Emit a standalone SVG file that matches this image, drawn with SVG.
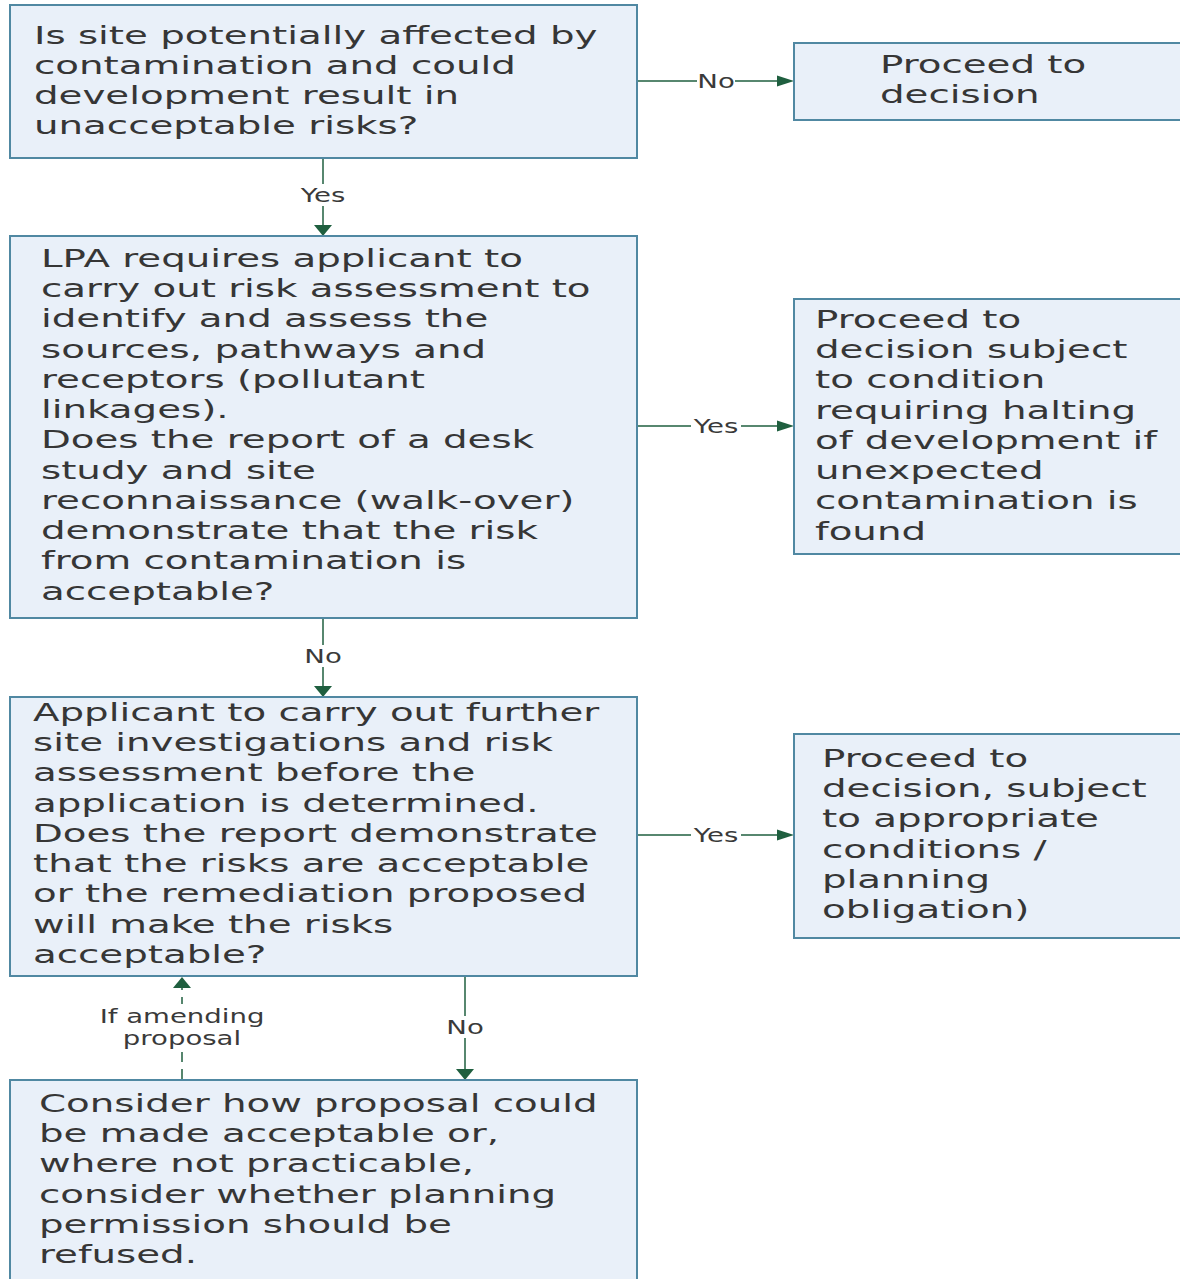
<svg xmlns="http://www.w3.org/2000/svg" width="1180" height="1279" viewBox="0 0 1180 1279">
  <style>
    .box { fill: #e9f0f9; stroke: #5088a2; stroke-width: 2; }
    .t { font-family: "DejaVu Sans", Verdana, sans-serif; font-size: 25px; fill: #363636; }
    .lbl { font-family: "DejaVu Sans", Verdana, sans-serif; font-size: 19px; fill: #3a3a3a; text-anchor: middle; }
    .ln { stroke: #1f5f3f; stroke-width: 1.5; fill: none; }
    .dash { stroke-dasharray: 11 7; }
    .head { fill: #1f5f3f; }
    .bg { fill: #ffffff; }
  </style>

  <rect width="1180" height="1279" fill="#ffffff"/>

  <!-- connectors -->
  <g id="connectors">
    <!-- Q1 -> Q2 (Yes) -->
    <line class="ln" x1="323" y1="158" x2="323" y2="226"/>
    <polygon class="head" points="314,225 332,225 323,236"/>
    <rect class="bg" x="297" y="184" width="52" height="22"/>
    <text class="lbl" transform="translate(323 0) scale(1.45 1)" y="202">Yes</text>

    <!-- Q1 -> decision (No) -->
    <line class="ln" x1="637" y1="81" x2="780" y2="81"/>
    <polygon class="head" points="777,75.5 777,86.5 794,81"/>
    <rect class="bg" x="697" y="71" width="38" height="20"/>
    <text class="lbl" transform="translate(716 0) scale(1.45 1)" y="88">No</text>

    <!-- Q2 -> conditional decision (Yes) -->
    <line class="ln" x1="637" y1="426" x2="780" y2="426"/>
    <polygon class="head" points="777,420.5 777,431.5 794,426"/>
    <rect class="bg" x="691" y="416" width="50" height="20"/>
    <text class="lbl" transform="translate(716 0) scale(1.45 1)" y="433">Yes</text>

    <!-- Q2 -> Q3 (No) -->
    <line class="ln" x1="323" y1="618" x2="323" y2="687"/>
    <polygon class="head" points="314,686 332,686 323,697"/>
    <rect class="bg" x="303" y="645" width="40" height="22"/>
    <text class="lbl" transform="translate(323 0) scale(1.45 1)" y="663">No</text>

    <!-- Q3 -> decision with conditions (Yes) -->
    <line class="ln" x1="637" y1="835" x2="780" y2="835"/>
    <polygon class="head" points="777,829.5 777,840.5 794,835"/>
    <rect class="bg" x="691" y="825" width="50" height="20"/>
    <text class="lbl" transform="translate(716 0) scale(1.45 1)" y="842">Yes</text>

    <!-- Q3 -> consider refusal (No) -->
    <line class="ln" x1="465" y1="976" x2="465" y2="1070"/>
    <polygon class="head" points="456,1069 474,1069 465,1080"/>
    <rect class="bg" x="445" y="1016" width="40" height="22"/>
    <text class="lbl" transform="translate(465 0) scale(1.45 1)" y="1034">No</text>

    <!-- amended proposal loops back to Q3 -->
    <line class="ln dash" x1="182" y1="1080" x2="182" y2="988"/>
    <polygon class="head" points="173,988 191,988 182,977"/>
    <rect class="bg" x="94" y="1004" width="178" height="48"/>
    <text class="lbl" transform="translate(182 0) scale(1.45 1)" y="1023">If amending</text>
    <text class="lbl" transform="translate(182 0) scale(1.45 1)" y="1045">proposal</text>
  </g>

  <!-- Q1: is the site affected by contamination -->
  <g id="q-contamination">
    <rect class="box" x="10" y="5" width="627" height="153"/>
    <text class="t" transform="translate(34 0) scale(1.55 1)">
      <tspan x="0" y="44">Is site potentially affected by</tspan>
      <tspan x="0" y="74">contamination and could</tspan>
      <tspan x="0" y="104">development result in</tspan>
      <tspan x="0" y="134">unacceptable risks?</tspan>
    </text>
  </g>

  <!-- outcome: proceed -->
  <g id="proceed">
    <rect class="box" x="794" y="43" width="400" height="77"/>
    <text class="t" transform="translate(880 0) scale(1.55 1)">
      <tspan x="0" y="73">Proceed to</tspan>
      <tspan x="0" y="103">decision</tspan>
    </text>
  </g>

  <!-- Q2: desk study and walk-over -->
  <g id="q-desk-study">
    <rect class="box" x="10" y="236" width="627" height="382"/>
    <text class="t" transform="translate(41 0) scale(1.55 1)">
      <tspan x="0" y="267">LPA requires applicant to</tspan>
      <tspan x="0" y="297.25">carry out risk assessment to</tspan>
      <tspan x="0" y="327.5">identify and assess the</tspan>
      <tspan x="0" y="357.75">sources, pathways and</tspan>
      <tspan x="0" y="388">receptors (pollutant</tspan>
      <tspan x="0" y="418.25">linkages).</tspan>
      <tspan x="0" y="448.5">Does the report of a desk</tspan>
      <tspan x="0" y="478.75">study and site</tspan>
      <tspan x="0" y="509">reconnaissance (walk-over)</tspan>
      <tspan x="0" y="539.25">demonstrate that the risk</tspan>
      <tspan x="0" y="569.5">from contamination is</tspan>
      <tspan x="0" y="599.75">acceptable?</tspan>
    </text>
  </g>

  <!-- outcome: proceed with halting condition -->
  <g id="proceed-halting">
    <rect class="box" x="794" y="299" width="400" height="255"/>
    <text class="t" transform="translate(815 0) scale(1.55 1)">
      <tspan x="0" y="328">Proceed to</tspan>
      <tspan x="0" y="358.25">decision subject</tspan>
      <tspan x="0" y="388.5">to condition</tspan>
      <tspan x="0" y="418.75">requiring halting</tspan>
      <tspan x="0" y="449">of development if</tspan>
      <tspan x="0" y="479.25">unexpected</tspan>
      <tspan x="0" y="509.5">contamination is</tspan>
      <tspan x="0" y="539.75">found</tspan>
    </text>
  </g>

  <!-- Q3: further investigations -->
  <g id="q-further">
    <rect class="box" x="10" y="697" width="627" height="279"/>
    <text class="t" transform="translate(33 0) scale(1.55 1)">
      <tspan x="0" y="721">Applicant to carry out further</tspan>
      <tspan x="0" y="751.25">site investigations and risk</tspan>
      <tspan x="0" y="781.5">assessment before the</tspan>
      <tspan x="0" y="811.75">application is determined.</tspan>
      <tspan x="0" y="842">Does the report demonstrate</tspan>
      <tspan x="0" y="872.25">that the risks are acceptable</tspan>
      <tspan x="0" y="902.5">or the remediation proposed</tspan>
      <tspan x="0" y="932.75">will make the risks</tspan>
      <tspan x="0" y="963">acceptable?</tspan>
    </text>
  </g>

  <!-- outcome: proceed with conditions -->
  <g id="proceed-conditions">
    <rect class="box" x="794" y="734" width="400" height="204"/>
    <text class="t" transform="translate(822 0) scale(1.55 1)">
      <tspan x="0" y="767">Proceed to</tspan>
      <tspan x="0" y="797.25">decision, subject</tspan>
      <tspan x="0" y="827.5">to appropriate</tspan>
      <tspan x="0" y="857.75">conditions /</tspan>
      <tspan x="0" y="888">planning</tspan>
      <tspan x="0" y="918.25">obligation)</tspan>
    </text>
  </g>

  <!-- Q4: consider amendment or refusal -->
  <g id="consider-refusal">
    <rect class="box" x="10" y="1080" width="627" height="215"/>
    <text class="t" transform="translate(39 0) scale(1.55 1)">
      <tspan x="0" y="1112">Consider how proposal could</tspan>
      <tspan x="0" y="1142.25">be made acceptable or,</tspan>
      <tspan x="0" y="1172.5">where not practicable,</tspan>
      <tspan x="0" y="1202.75">consider whether planning</tspan>
      <tspan x="0" y="1233">permission should be</tspan>
      <tspan x="0" y="1263.25">refused.</tspan>
    </text>
  </g>
</svg>
